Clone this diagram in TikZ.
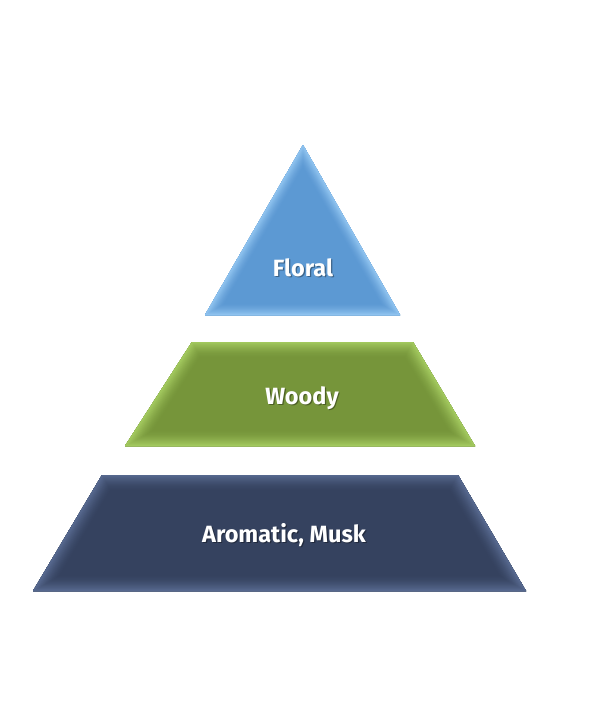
\documentclass[tikz,border=0pt]{standalone}
\usepackage{fontspec}
\setmainfont{Fira Sans}
\usetikzlibrary{calc}
\definecolor{bluemain}{HTML}{5C99D3}
\definecolor{blueedge}{HTML}{8EC2EF}
\definecolor{greenmain}{HTML}{76953A}
\definecolor{greenedge}{HTML}{A2C85E}
\definecolor{navymain}{HTML}{35425F}
\definecolor{navyedge}{HTML}{56688E}
\newcommand\bevelfill[4]{%
  \begin{scope}
    \clip #1;
    \fill[#2] #1;
    \foreach \k in {0,...,14}{%
      \pgfmathsetmacro\w{#4*(15-\k)/7.5}%
      \pgfmathsetmacro\p{(\k/14)^1.5*100}%
      \draw[line width=\w pt, color=#3!\p!#2, line join=miter] #1;
    }
  \end{scope}}
\tikzset{
  lbl/.style={text=white, font=\fontsize{23.5}{28}\selectfont\bfseries, inner sep=0pt},
  lblshadow/.style={text=black, opacity=0.35, font=\fontsize{23.5}{28}\selectfont\bfseries, inner sep=0pt}
}
\begin{document}
\begin{tikzpicture}[x=1pt,y=-1pt]
\useasboundingbox[fill=white] (0,0) rectangle (600,726);
% Floral triangle
\coordinate (fa) at (303,145);
\coordinate (fl) at (205,315);
\coordinate (fr) at (400,315);
\bevelfill{(fa) -- (fr) -- (fl) -- cycle}{bluemain}{blueedge}{12}
% Woody trapezoid
\coordinate (wtl) at (192,342);
\coordinate (wtr) at (413,342);
\coordinate (wbr) at (475,446);
\coordinate (wbl) at (125,446);
\bevelfill{(wtl) -- (wtr) -- (wbr) -- (wbl) -- cycle}{greenmain}{greenedge}{16}
% Aromatic trapezoid
\coordinate (atl) at (102,475);
\coordinate (atr) at (458,475);
\coordinate (abr) at (526,591);
\coordinate (abl) at (33,591);
\bevelfill{(atl) -- (atr) -- (abr) -- (abl) -- cycle}{navymain}{navyedge}{16}
% labels
\node[lblshadow] (floralsh) at (304.2,269.2) {Floral};
\node[lbl] (floral) at (303,268) {Floral};
\node[lblshadow] (woodysh) at (303.2,399.2) {Woody};
\node[lbl] (woody) at (302,398) {Woody};
\node[lblshadow] (musksh) at (285.2,536.2) {Aromatic, Musk};
\node[lbl] (musk) at (284,535) {Aromatic, Musk};
\end{tikzpicture}
\end{document}
